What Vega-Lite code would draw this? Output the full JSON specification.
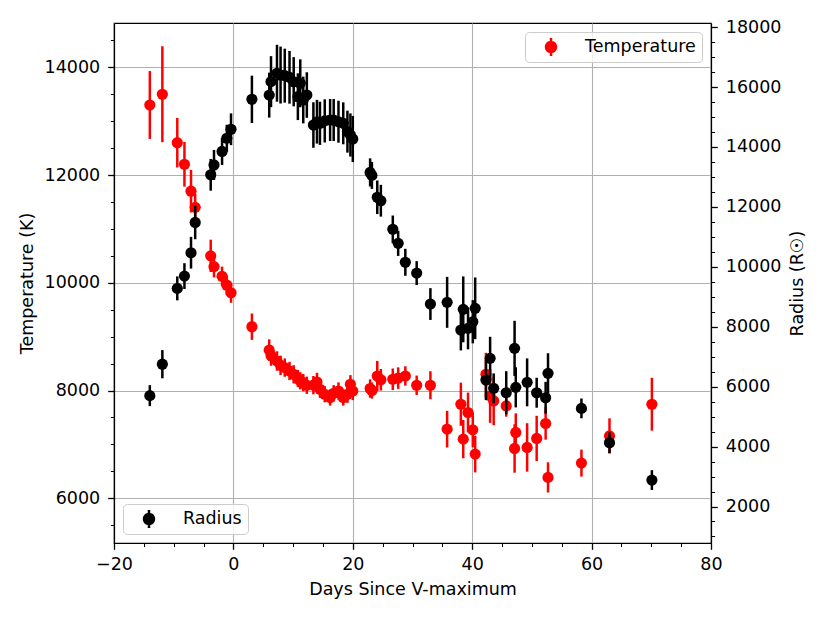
{
  "$schema": "https://vega.github.io/schema/vega-lite/v6.json",
  "width": 597,
  "height": 520,
  "autosize": {"type": "none"},
  "padding": {"left": 114, "top": 23, "right": 119, "bottom": 80},
  "background": "white",
  "config": {
    "view": {"stroke": "black", "strokeWidth": 1.2},
    "axis": {
      "labelFont": "DejaVu Sans",
      "labelFontSize": 17.5,
      "labelColor": "black",
      "labelFlush": false,
      "titleFont": "DejaVu Sans",
      "titleFontSize": 17.5,
      "titleFontWeight": "normal",
      "titleColor": "black",
      "domainColor": "black",
      "domainWidth": 1.2,
      "tickColor": "black",
      "gridColor": "#b0b0b0",
      "gridWidth": 1.1
    },
    "legend": {
      "labelFont": "DejaVu Sans",
      "labelFontSize": 17.5,
      "labelColor": "black"
    }
  },
  "data": {
    "values": [
      {"day": -14.0, "T": 13300, "Te": 630, "R": 5700, "Re": 350},
      {"day": -11.9, "T": 13500, "Te": 890, "R": 6750, "Re": 470},
      {"day": -9.4, "T": 12600, "Te": 460, "R": 9280, "Re": 400},
      {"day": -8.2, "T": 12200, "Te": 415, "R": 9690, "Re": 430},
      {"day": -7.1, "T": 11700, "Te": 395, "R": 10470, "Re": 530},
      {"day": -6.4, "T": 11400, "Te": 250, "R": 11480, "Re": 560},
      {"day": -3.8, "T": 10500, "Te": 300, "R": 13070, "Re": 530},
      {"day": -3.25, "T": 10300, "Te": 200, "R": 13400, "Re": 500},
      {"day": -1.9, "T": 10120, "Te": 180, "R": 13850, "Re": 450},
      {"day": -1.1, "T": 9955, "Te": 180, "R": 14290, "Re": 450},
      {"day": -0.4, "T": 9814, "Te": 185, "R": 14590, "Re": 530},
      {"day": 3.1, "T": 9185, "Te": 245, "R": 15590, "Re": 790},
      {"day": 6.0, "T": 8750, "Te": 200, "R": 15730, "Re": 750},
      {"day": 6.3, "T": 8650, "Te": 190, "R": 16180, "Re": 850},
      {"day": 7.3, "T": 8548, "Te": 180, "R": 16460, "Re": 950},
      {"day": 7.9, "T": 8468, "Te": 180, "R": 16400, "Re": 950},
      {"day": 8.6, "T": 8426, "Te": 170, "R": 16380, "Re": 900},
      {"day": 9.4, "T": 8363, "Te": 170, "R": 16324, "Re": 880},
      {"day": 10.1, "T": 8301, "Te": 170, "R": 16177, "Re": 820},
      {"day": 10.8, "T": 8222, "Te": 160, "R": 15677, "Re": 780},
      {"day": 11.2, "T": 8180, "Te": 160, "R": 16124, "Re": 800},
      {"day": 11.7, "T": 8148, "Te": 160, "R": 15567, "Re": 780},
      {"day": 12.3, "T": 8098, "Te": 160, "R": 15733, "Re": 760},
      {"day": 13.4, "T": 8100, "Te": 170, "R": 14732, "Re": 760},
      {"day": 14.0, "T": 8159, "Te": 170, "R": 14842, "Re": 730},
      {"day": 14.5, "T": 8024, "Te": 160, "R": 14789, "Re": 720},
      {"day": 15.3, "T": 7931, "Te": 150, "R": 14870, "Re": 720},
      {"day": 16.2, "T": 7870, "Te": 150, "R": 14899, "Re": 700},
      {"day": 16.8, "T": 7950, "Te": 150, "R": 14899, "Re": 700},
      {"day": 17.6, "T": 7992, "Te": 160, "R": 14842, "Re": 700},
      {"day": 18.4, "T": 7870, "Te": 150, "R": 14789, "Re": 700},
      {"day": 19.1, "T": 7931, "Te": 160, "R": 14510, "Re": 700},
      {"day": 19.6, "T": 8116, "Te": 170, "R": 14400, "Re": 720},
      {"day": 20.0, "T": 7992, "Te": 170, "R": 14265, "Re": 770},
      {"day": 22.9, "T": 8037, "Te": 170, "R": 13150, "Re": 470},
      {"day": 23.2, "T": 8000, "Te": 150, "R": 13050, "Re": 450},
      {"day": 24.1, "T": 8270, "Te": 280, "R": 12320, "Re": 560},
      {"day": 24.7, "T": 8200, "Te": 200, "R": 12205, "Re": 530},
      {"day": 26.7, "T": 8209, "Te": 200, "R": 11251, "Re": 460},
      {"day": 27.6, "T": 8230, "Te": 200, "R": 10783, "Re": 420},
      {"day": 28.8, "T": 8270, "Te": 180, "R": 10150, "Re": 450},
      {"day": 30.7, "T": 8098, "Te": 180, "R": 9790, "Re": 400},
      {"day": 33.0, "T": 8098, "Te": 260, "R": 8757, "Re": 530},
      {"day": 35.8, "T": 7283, "Te": 340, "R": 8814, "Re": 850},
      {"day": 38.1, "T": 7746, "Te": 400, "R": 7889, "Re": 680},
      {"day": 38.5, "T": 7098, "Te": 355, "R": 8580, "Re": 1100},
      {"day": 39.3, "T": 7592, "Te": 370, "R": 7946, "Re": 700},
      {"day": 40.1, "T": 7270, "Te": 325, "R": 8166, "Re": 720},
      {"day": 40.5, "T": 6820, "Te": 340, "R": 8614, "Re": 1030},
      {"day": 42.3, "T": 8301, "Te": 400, "R": 6220, "Re": 670},
      {"day": 43.0, "T": 7900, "Te": 500, "R": 6944, "Re": 720},
      {"day": 43.6, "T": 7807, "Te": 450, "R": 5943, "Re": 500},
      {"day": 45.7, "T": 7714, "Te": 200, "R": 5797, "Re": 720},
      {"day": 47.1, "T": 6925, "Te": 450, "R": 7278, "Re": 920},
      {"day": 47.3, "T": 7222, "Te": 355, "R": 5977, "Re": 670},
      {"day": 49.2, "T": 6944, "Te": 450, "R": 6143, "Re": 800},
      {"day": 50.8, "T": 7111, "Te": 420, "R": 5797, "Re": 500},
      {"day": 52.3, "T": 7388, "Te": 300, "R": 5630, "Re": 530},
      {"day": 52.7, "T": 6388, "Te": 280, "R": 6444, "Re": 670},
      {"day": 58.3, "T": 6653, "Te": 250, "R": 5275, "Re": 330},
      {"day": 63.0, "T": 7159, "Te": 325, "R": 4127, "Re": 350},
      {"day": 70.1, "T": 7746, "Te": 490, "R": 2882, "Re": 330}
    ]
  },
  "encoding": {
    "x": {
      "field": "day",
      "type": "quantitative",
      "scale": {"domain": [-20, 80], "nice": false, "zero": false},
      "axis": {
        "title": "Days Since V-maximum",
        "values": [-20, -15, -10, -5, 0, 5, 10, 15, 20, 25, 30, 35, 40, 45, 50, 55, 60, 65, 70, 75, 80],
        "format": "d",
        "labelExpr": "datum.value % 20 === 0 ? datum.label : ''",
        "tickSize": {"condition": {"test": "datum.value % 20 === 0", "value": 6.3}, "value": 3.6},
        "tickWidth": {"condition": {"test": "datum.value % 20 === 0", "value": 1.3}, "value": 1},
        "grid": true,
        "gridOpacity": {"condition": {"test": "datum.value % 20 === 0", "value": 1}, "value": 0},
        "labelPadding": 6,
        "titlePadding": 8
      }
    }
  },
  "layer": [
    {
      "encoding": {
        "y": {
          "field": "T",
          "type": "quantitative",
          "scale": {"domain": [5170, 14822], "nice": false, "zero": false},
          "axis": {
            "title": "Temperature (K)",
            "orient": "left",
            "values": [5500, 6000, 6500, 7000, 7500, 8000, 8500, 9000, 9500, 10000, 10500, 11000, 11500, 12000, 12500, 13000, 13500, 14000, 14500],
            "format": "d",
            "labelExpr": "datum.value % 2000 === 0 ? datum.label : ''",
            "tickSize": {"condition": {"test": "datum.value % 2000 === 0", "value": 6.3}, "value": 3.6},
            "tickWidth": {"condition": {"test": "datum.value % 2000 === 0", "value": 1.3}, "value": 1},
            "grid": true,
            "gridOpacity": {"condition": {"test": "datum.value % 2000 === 0", "value": 1}, "value": 0},
            "labelPadding": 8,
            "titlePadding": 8
          }
        }
      },
      "layer": [
        {
          "mark": {"type": "errorbar", "color": "#ff0000", "thickness": 2.5},
          "encoding": {"yError": {"field": "Te"}}
        },
        {
          "mark": {"type": "circle", "size": 125, "opacity": 1},
          "encoding": {
            "color": {
              "datum": "Temperature",
              "type": "nominal",
              "scale": {"domain": ["Temperature"], "range": ["#ff0000"]},
              "legend": {
                "title": null,
                "orient": "top-right",
                "offset": 9,
                "padding": 6,
                "symbolType": "M-0.14,-1L0.14,-1L0.14,-0.5L-0.14,-0.5Z M-0.14,0.5L0.14,0.5L0.14,1L-0.14,1Z M-0.69,0A0.69,0.69,0,1,1,0.69,0A0.69,0.69,0,1,1,-0.69,0Z",
                "symbolSize": 324,
                "symbolStrokeWidth": 0,
                "symbolOpacity": 1,
                "symbolOffset": 11,
                "labelOffset": 25,
                "fillColor": "rgba(255,255,255,0.8)",
                "strokeColor": "#cccccc",
                "cornerRadius": 4
              }
            }
          }
        }
      ]
    },
    {
      "encoding": {
        "y": {
          "field": "R",
          "type": "quantitative",
          "scale": {"domain": [782, 18137], "nice": false, "zero": false},
          "axis": {
            "title": "Radius (R☉)",
            "orient": "right",
            "titleAngle": 270,
            "values": [1000, 1500, 2000, 2500, 3000, 3500, 4000, 4500, 5000, 5500, 6000, 6500, 7000, 7500, 8000, 8500, 9000, 9500, 10000, 10500, 11000, 11500, 12000, 12500, 13000, 13500, 14000, 14500, 15000, 15500, 16000, 16500, 17000, 17500, 18000],
            "format": "d",
            "labelExpr": "datum.value % 2000 === 0 ? datum.label : ''",
            "tickSize": {"condition": {"test": "datum.value % 2000 === 0", "value": 6.3}, "value": 3.6},
            "tickWidth": {"condition": {"test": "datum.value % 2000 === 0", "value": 1.3}, "value": 1},
            "grid": false,
            "labelPadding": 8,
            "titlePadding": 26
          }
        }
      },
      "layer": [
        {
          "mark": {"type": "errorbar", "color": "#000000", "thickness": 2.5},
          "encoding": {"yError": {"field": "Re"}}
        },
        {
          "mark": {"type": "circle", "size": 125, "opacity": 1},
          "encoding": {
            "color": {
              "datum": "Radius",
              "type": "nominal",
              "scale": {"domain": ["Radius"], "range": ["#000000"]},
              "legend": {
                "title": null,
                "orient": "bottom-left",
                "offset": 9,
                "padding": 6,
                "symbolType": "M-0.14,-1L0.14,-1L0.14,-0.5L-0.14,-0.5Z M-0.14,0.5L0.14,0.5L0.14,1L-0.14,1Z M-0.69,0A0.69,0.69,0,1,1,0.69,0A0.69,0.69,0,1,1,-0.69,0Z",
                "symbolSize": 324,
                "symbolStrokeWidth": 0,
                "symbolOpacity": 1,
                "symbolOffset": 11,
                "labelOffset": 25,
                "fillColor": "rgba(255,255,255,0.8)",
                "strokeColor": "#cccccc",
                "cornerRadius": 4
              }
            }
          }
        }
      ]
    }
  ],
  "resolve": {
    "scale": {"y": "independent", "color": "independent"},
    "axis": {"y": "independent"},
    "legend": {"color": "independent"}
  }
}
